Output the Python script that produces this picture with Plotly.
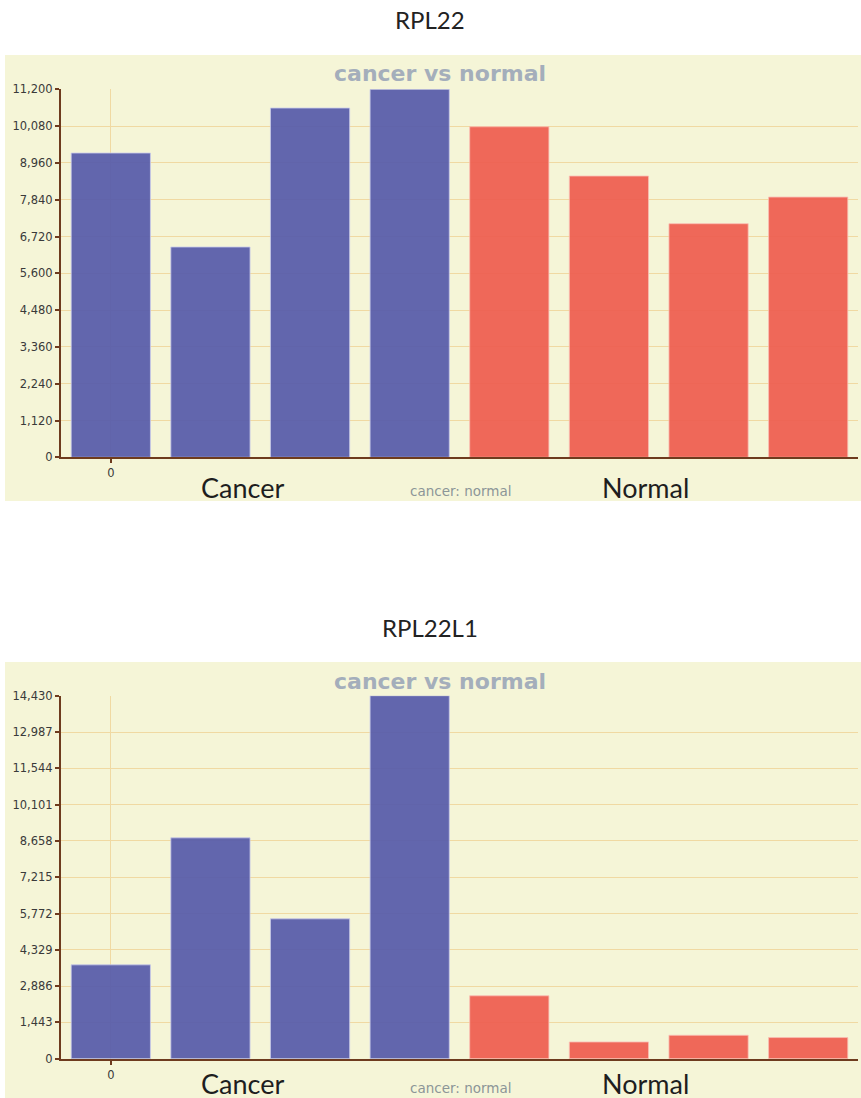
import plotly.graph_objects as go

W, H = 861, 1098

# Expression values per sample (4 cancer, 4 normal)
groups = ["cancer", "cancer", "cancer", "cancer", "normal", "normal", "normal", "normal"]
rpl22_values = [9260, 6400, 10630, 11200, 10060, 8560, 7110, 7920]
rpl22l1_values = [3730, 8780, 5560, 14430, 2500, 665, 930, 840]

rpl22_ticks = [0, 1120, 2240, 3360, 4480, 5600, 6720, 7840, 8960, 10080, 11200]
rpl22l1_ticks = [0, 1443, 2886, 4329, 5772, 7215, 8658, 10101, 11544, 12987, 14430]

gene_names = ["RPL22", "RPL22L1"]
chart_subtitle = "cancer vs normal"
axis_caption = "cancer: normal"
group_labels = ["Cancer", "Normal"]

BLUE = "rgba(86,90,170,0.93)"
RED = "rgba(238,92,80,0.93)"
BEIGE = "#f5f5d7"
GRID = "#f0d9a2"
AXIS = "#6e3b1e"
TICK_FONT = dict(family="DejaVu Sans", size=11.5, color="#3a3a3a")


def py(px):
    """Convert a pixel row (from the top) to paper y."""
    return 1 - px / H


def px_x(px):
    return px / W


bar_colors = [BLUE if g == "cancer" else RED for g in groups]
edge_colors = ["rgba(200,202,235,0.8)" if g == "cancer" else "rgba(250,190,180,0.8)" for g in groups]

fig = go.Figure()

# panel geometry in pixels
panels = [
    dict(top=55, bottom=501, ptop=89.3, pbot=457.3, title_y=20, sub_y=73, grp_y=487, cap_y=491,
         values=rpl22_values, ticks=rpl22_ticks),
    dict(top=662, bottom=1098, ptop=695.7, pbot=1058.7, title_y=627, sub_y=681, grp_y=1083, cap_y=1088,
         values=rpl22l1_values, ticks=rpl22l1_ticks),
]

x_left, x_right = 61, 858
shapes = []
annotations = []


def label(text, x, y, font):
    return dict(text=text, x=px_x(x), y=py(y), xref="paper", yref="paper",
                xanchor="center", yanchor="middle", showarrow=False, font=font)


for i, p in enumerate(panels):
    sfx = "" if i == 0 else str(i + 1)
    xa, ya = "x" + sfx, "y" + sfx
    fig.add_trace(go.Bar(
        x=list(range(len(p["values"]))),
        y=p["values"],
        marker=dict(color=bar_colors, line=dict(color=edge_colors, width=1)),
        width=0.795,
        xaxis=xa, yaxis=ya,
        showlegend=False,
        hoverinfo="y",
    ))

    ydom = [py(p["pbot"]), py(p["ptop"])]
    xdom = [px_x(x_left), px_x(x_right)]
    fig.update_layout(**{
        "xaxis" + sfx: dict(
            domain=xdom, anchor=ya, range=[-0.5, 7.5], automargin=False,
            tickvals=[0], ticktext=["0"], ticks="outside", ticklen=4, tickwidth=2,
            tickcolor=AXIS, showline=True, linecolor=AXIS, linewidth=2,
            showgrid=True, gridcolor=GRID, gridwidth=1, zeroline=False,
            tickfont=TICK_FONT, fixedrange=True,
        ),
        "yaxis" + sfx: dict(
            domain=ydom, anchor=xa, range=[0, p["ticks"][-1]], automargin=False,
            tickvals=p["ticks"], tickformat=",d", ticks="outside", ticklen=4, tickwidth=2,
            tickcolor=AXIS, showline=True, linecolor=AXIS, linewidth=2,
            showgrid=True, gridcolor=GRID, gridwidth=1, zeroline=False,
            tickfont=TICK_FONT, fixedrange=True,
        ),
    })

    # beige panel behind the chart
    shapes.append(dict(
        type="rect", xref="paper", yref="paper", layer="below",
        x0=px_x(5), x1=1, y0=py(p["bottom"]), y1=py(p["top"]),
        fillcolor=BEIGE, line=dict(width=0),
    ))

    annotations += [
        label(gene_names[i], 430, p["title_y"], dict(family="Lato", size=24, color="#222222")),
        label(chart_subtitle, 440, p["sub_y"],
              dict(family="DejaVu Sans", size=22, color="#a4aebb", weight="bold")),
        label(group_labels[0], 242, p["grp_y"], dict(family="Lato", size=27, color="#1e1e1e")),
        label(axis_caption, 460, p["cap_y"], dict(family="DejaVu Sans", size=13.5, color="#8c9698")),
        label(group_labels[1], 645, p["grp_y"], dict(family="Lato", size=27, color="#1e1e1e")),
    ]

fig.update_layout(
    width=W, height=H,
    margin=dict(l=0, r=0, t=0, b=0, autoexpand=False),
    paper_bgcolor="white",
    plot_bgcolor=BEIGE,
    shapes=shapes,
    annotations=annotations,
    bargap=0.2,
)

fig.write_html("out.html")
